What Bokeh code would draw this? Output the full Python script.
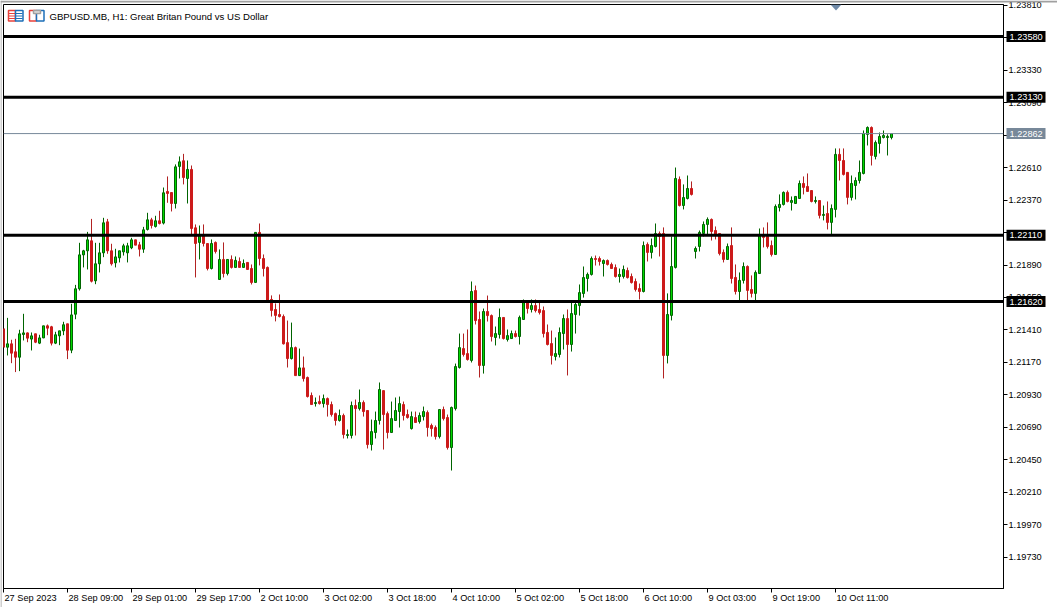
from bokeh.plotting import figure
from bokeh.embed import file_html
from bokeh.resources import INLINE
from bokeh.layouts import column
from bokeh.core.properties import value
from bokeh.models import FixedTicker, PrintfTickFormatter, Label, Span, ColumnDataSource

FONT = "Liberation Sans"

# prices in points (1e-5)
opens = [
121418,121282,121307,121248,121208,121376,121388,121342,121381,121312,
121351,121440,121433,121312,121366,121403,121455,121260,121526,121714,
121965,121995,122069,121773,121899,121980,122209,121995,121906,121943,
121987,121980,122017,122076,122039,122007,122153,122224,122175,122217,
122200,122434,122426,122345,122619,122661,122530,122597,122165,122057,
122116,122049,121864,122057,121783,121931,121827,121931,121872,121916,
121872,121909,121864,121761,122131,121938,121872,121635,121561,121524,
121509,121316,121198,121279,121072,121129,121058,120925,120865,120880,
120865,120902,120858,120791,120740,120777,120629,120629,120851,120828,
120873,120814,120562,120651,120740,120961,120791,120651,120740,120806,
120858,120784,120680,120762,120732,120769,120799,120703,120688,120621,
120821,120762,120540,120828,121132,121272,121235,121184,121701,121487,
121147,121546,121516,121354,121376,121502,121339,121346,121383,121361,
121487,121615,121561,121590,121561,121553,121391,121309,121213,121228,
121383,121494,121302,121524,121590,121679,121790,121820,121938,121938,
121901,121923,121894,121871,121805,121805,121849,121805,121768,121716,
121694,122042,121983,122027,122123,122123,121221,121517,121872,122523,
122330,122382,122456,121990,122027,122123,122190,122227,122145,122123,
121983,121931,122034,121798,121694,121776,121879,121709,121680,121827,
122116,122101,122034,121968,122315,122338,122427,122353,122345,122382,
122493,122471,122441,122360,122367,122257,122271,122205,122301,122708,
122663,122575,122390,122478,122515,122567,122856,122907,122693,122789,
122833,122833,122833]
closes = [
121282,121307,121238,121208,121381,121388,121349,121366,121319,121351,
121440,121423,121312,121374,121403,121448,121260,121521,121714,121965,
121995,122076,121770,121899,121980,122202,121995,121899,121950,121995,
122032,122032,122076,122037,122007,122150,122224,122182,122217,122197,
122424,122419,122345,122616,122653,122537,122597,122160,122049,122116,
122049,121864,122049,121990,121931,121827,121931,121872,121924,121872,
121901,121857,121761,122131,121938,121864,121620,121554,121517,121509,
121307,121198,121279,121072,121129,121050,120917,120858,120873,120865,
120902,120858,120784,120740,120777,120636,120636,120851,120828,120873,
120806,120562,120658,120740,120969,120784,120651,120754,120814,120865,
120777,120762,120769,120725,120777,120806,120688,120680,120621,120821,
120754,120540,120836,121139,121279,121228,121191,121694,121479,121147,
121546,121516,121361,121383,121502,121346,121368,121383,121361,121502,
121627,121568,121590,121553,121539,121383,121302,121221,121235,121391,
121494,121302,121531,121598,121686,121797,121820,121938,121931,121916,
121923,121894,121864,121805,121820,121857,121797,121760,121709,121694,
122034,121983,122034,122123,122101,121221,121524,121879,122530,122330,
122389,122456,122412,122012,122131,122190,122227,122138,122108,121975,
121931,122027,121790,121694,121776,121879,121702,121680,121835,122116,
122094,122027,121968,122323,122338,122427,122360,122367,122397,122493,
122464,122434,122360,122367,122257,122264,122205,122308,122708,122663,
122560,122390,122493,122515,122575,122863,122907,122700,122796,122841,
122848,122841,122862]
highs = [
121418,121499,121337,121344,121411,121529,121391,121391,121381,121374,
121440,121450,121440,121396,121403,121470,121455,121603,121743,122054,
122002,122135,122231,122054,122054,122239,122231,122047,122010,121995,
122047,122054,122091,122076,122061,122172,122276,122239,122254,122291,
122463,122545,122426,122634,122693,122712,122663,122626,122190,122182,
122190,122049,122079,122064,122005,122057,121931,121961,121953,121946,
121931,121909,121894,122131,122197,121968,121879,121665,121606,121672,
121524,121479,121464,121287,121272,121213,121065,120947,120910,120925,
120932,120910,120880,120799,120821,120791,120673,120880,120895,120969,
120888,120814,120747,120806,121021,120961,120806,120880,120910,120917,
120880,120821,120806,120806,120799,120843,120814,120717,120703,120821,
120843,120784,120843,121161,121383,121383,121413,121768,121738,121546,
121568,121664,121524,121435,121568,121502,121413,121405,121405,121516,
121635,121627,121635,121635,121613,121583,121450,121405,121354,121428,
121524,121561,121613,121617,121746,121879,121834,121953,121960,121953,
121931,121931,121908,121894,121864,121886,121871,121827,121790,121753,
122064,122057,122086,122197,122138,122168,121680,122101,122611,122545,
122486,122552,122508,122027,122145,122212,122242,122234,122175,122123,
122005,122049,122168,121894,121835,121909,121887,121813,121850,122160,
122168,122205,122071,122338,122412,122434,122441,122397,122397,122515,
122545,122567,122441,122397,122367,122330,122360,122338,122752,122752,
122752,122575,122552,122538,122663,122885,122915,122915,122811,122870,
122885,122856,122863]
lows = [
121282,121221,121164,121098,121105,121332,121319,121258,121312,121305,
121349,121371,121295,121305,121297,121371,121194,121238,121489,121701,
121872,121857,121761,121748,121835,121948,121973,121886,121872,121909,
121960,121909,122007,122037,121953,121980,122145,122160,122167,122190,
122190,122350,122286,122308,122530,122486,122345,122108,121798,121931,
122027,121850,121857,121975,121783,121798,121813,121864,121872,121872,
121872,121857,121746,121761,121887,121805,121620,121509,121473,121502,
121302,121132,121191,121072,121072,121028,120910,120858,120843,120858,
120836,120769,120769,120703,120732,120607,120607,120607,120629,120814,
120769,120533,120518,120607,120710,120525,120607,120651,120740,120688,
120740,120754,120673,120725,120717,120740,120621,120621,120599,120607,
120740,120525,120370,120814,121124,121213,121183,121169,121450,121058,
121087,121472,121324,121295,121346,121339,121324,121346,121354,121302,
121487,121531,121539,121539,121524,121354,121295,121154,121184,121206,
121265,121073,121250,121383,121516,121649,121694,121812,121886,121886,
121805,121886,121864,121797,121760,121790,121790,121753,121694,121635,
121687,121916,121938,122020,121953,121051,121162,121480,121864,122323,
122301,122375,122404,121938,121990,122101,122116,122071,122079,121961,
121909,121931,121753,121672,121628,121753,121628,121650,121628,121827,
122020,122012,121953,121968,122286,122330,122353,122293,122345,122382,
122412,122434,122353,122345,122234,122220,122153,122116,122242,122515,
122552,122338,122367,122375,122493,122560,122774,122626,122671,122715,
122826,122700,122819]

y_ticks = [1.2381,1.2357,1.2333,1.2309,1.2285,1.2261,1.2237,1.2213,1.2189,1.2165,
           1.2141,1.2117,1.2093,1.2069,1.2045,1.2021,1.1997,1.1973]
x_ticks = [0,16,32,48,64,80,96,112,128,144,160,176,192,208]
x_labels = ["27 Sep 2023","28 Sep 09:00","29 Sep 01:00","29 Sep 17:00","2 Oct 10:00",
            "3 Oct 02:00","3 Oct 18:00","4 Oct 10:00","5 Oct 02:00","5 Oct 18:00",
            "6 Oct 10:00","9 Oct 03:00","9 Oct 19:00","10 Oct 11:00"]
levels = [1.2358, 1.2313, 1.2211, 1.2162]
last_price = 1.22862
title = "GBPUSD.MB, H1:  Great Britan Pound vs US Dollar"

def bx(px):
    return (px - 3.0) / 4.0
def py(y):
    return 1.2358 - (y - 36) * 7.396e-5

p = figure(width=1057, height=607, output_backend="svg", toolbar_location=None,
           x_range=(bx(3), bx(1003)), y_range=(py(588), py(4)),
           y_axis_location="right", x_axis_location="below",
           min_border_left=3, min_border_right=54, min_border_top=4, min_border_bottom=19,
           background_fill_color="white", border_fill_color="white", frame_align=False)
p.grid.visible = False
p.outline_line_color = "black"
p.outline_line_width = 1

ya = p.yaxis[0]
ya.ticker = FixedTicker(ticks=y_ticks)
ya.formatter = PrintfTickFormatter(format="%.5f")
ya.major_tick_in = 0
ya.major_tick_out = 4
ya.minor_tick_line_color = None
ya.axis_line_color = "black"
ya.major_tick_line_color = "black"
ya.major_label_standoff = 1
ya.major_label_text_font = FONT
ya.major_label_text_font_size = "9.2px"
ya.major_label_text_color = "black"

xa = p.xaxis[0]
xa.ticker = FixedTicker(ticks=x_ticks)
xa.major_label_overrides = {t: "" for t in x_ticks}
xa.major_tick_in = 0
xa.major_tick_out = 4
xa.minor_tick_line_color = None
xa.axis_line_color = "black"
xa.major_tick_line_color = "black"

n = len(opens)
idx_up = [i for i in range(n) if closes[i] >= opens[i]]
idx_dn = [i for i in range(n) if closes[i] < opens[i]]

def src(ix):
    return ColumnDataSource(dict(
        x=ix,
        o=[opens[i] / 1e5 for i in ix], c=[closes[i] / 1e5 for i in ix],
        h=[highs[i] / 1e5 for i in ix], l=[lows[i] / 1e5 for i in ix]))

GREEN_LINE, GREEN_FILL = "#006400", "#00d800"
RED_LINE, RED_FILL = "#b22222", "#cc1a1a"

su, sd = src(idx_up), src(idx_dn)
p.segment("x", "h", "x", "l", source=su, line_color=GREEN_LINE, line_width=1)
p.vbar("x", 0.5, "o", "c", source=su, fill_color=GREEN_FILL, line_color=GREEN_LINE, line_width=1)
p.segment("x", "h", "x", "l", source=sd, line_color=RED_LINE, line_width=1)
p.vbar("x", 0.5, "o", "c", source=sd, fill_color=RED_FILL, line_color=RED_FILL, line_width=1)

for lv in levels:
    p.add_layout(Span(location=lv, dimension="width", line_color="black", line_width=3))
p.add_layout(Span(location=last_price, dimension="width", line_color="#778899", line_width=1))

# chart header icons
def rect(x0, x1, y0, y1, line, fill="white"):
    p.quad(left=bx(x0), right=bx(x1), top=py(y0), bottom=py(y1),
           fill_color=fill, line_color=line, line_width=1.5)
rect(8, 15, 10, 20.5, "#e8403a")
rect(15, 22.5, 10, 20.5, "#1c6fb8")
for yy in (13, 15.5, 18):
    p.line([bx(8.5), bx(14.5)], [py(yy), py(yy)], line_color="#e8403a", line_width=1)
    p.line([bx(15.5), bx(22)], [py(yy), py(yy)], line_color="#1c6fb8", line_width=1)
rect(29, 36, 10, 20.5, "#e8403a")
rect(36, 43.5, 10, 20.5, "#1c6fb8")
rect(33, 40, 10, 13, "#a0a0a0", "#e0e0e0")

# chart-shift marker
p.patch([bx(830), bx(841), bx(835.5)], [py(4), py(4), py(10)],
        fill_color="#6f8aa8", line_color=None)

p.add_layout(Label(x=bx(49), y=py(15.5), text=title, text_font=FONT, text_font_size="9.6px",
                   text_color="black", text_baseline="middle", text_align="left"))

# transparent layer over the whole page, same scales, for what sits outside the plot frame
q = figure(width=1057, height=607, output_backend="svg", toolbar_location=None,
           x_range=(bx(0), bx(1057)), y_range=(py(607), py(0)),
           x_axis_location=None, y_axis_location=None,
           min_border_left=0, min_border_right=0, min_border_top=0, min_border_bottom=0,
           background_fill_color=None, border_fill_color=None, outline_line_color=None,
           margin=(-607, 0, 0, 0), frame_align=False)
q.grid.visible = False

q.text(x=[t + bx(4) for t in x_ticks], y=[py(597.5)] * len(x_ticks), text=x_labels,
       text_font=value(FONT), text_font_size=value("9.2px"), text_color="black",
       text_baseline="middle", text_align="left")

def price_box(price, color):
    half = 5.5 * 7.396e-5
    q.quad(left=bx(1006), right=bx(1045), top=price + half, bottom=price - half,
           fill_color=color, line_color=None)
    q.text(x=[bx(1009)], y=[price], text=["%.5f" % price], text_font=value(FONT),
           text_font_size=value("9.2px"), text_color="white",
           text_baseline="middle", text_align="left")

for lv in levels:
    price_box(lv, "black")
price_box(last_price, "#778899")

# window edge
q.quad(left=bx(0), right=bx(1057), top=py(0), bottom=py(2), fill_color="#a0a0a0", line_color=None)
q.quad(left=bx(0), right=bx(1), top=py(0), bottom=py(607), fill_color="#a0a0a0", line_color=None)

page = column(p, q, width=1057, height=607)
page.styles = {"position": "absolute", "left": "0px", "top": "0px"}
open("out.html", "w").write(file_html(page, INLINE))
